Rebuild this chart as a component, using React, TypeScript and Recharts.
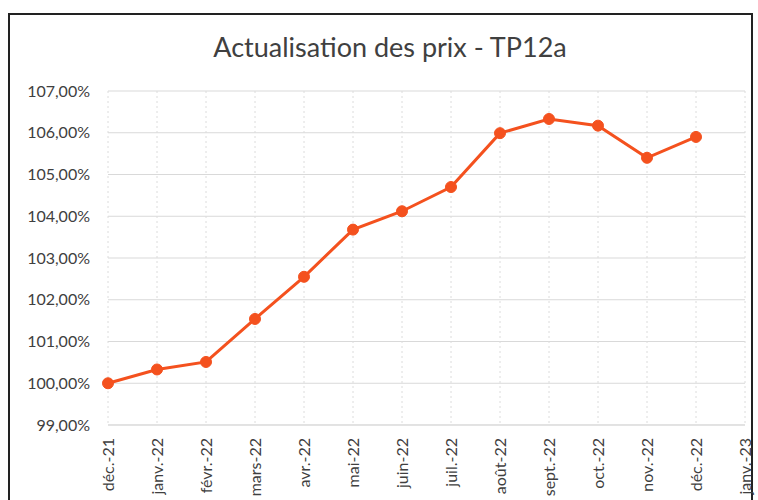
import React from 'react';
import { LineChart, Line, XAxis, YAxis, CartesianGrid } from 'recharts';

const months = ['déc.-21', 'janv.-22', 'févr.-22', 'mars-22', 'avr.-22', 'mai-22', 'juin-22', 'juil.-22', 'août-22', 'sept.-22', 'oct.-22', 'nov.-22', 'déc.-22', 'janv.-23'];
const values: (number | null)[] = [100.0, 100.33, 100.51, 101.54, 102.55, 103.68, 104.12, 104.7, 105.99, 106.33, 106.17, 105.4, 105.9, null];
const yTicks = [99, 100, 101, 102, 103, 104, 105, 106, 107];
const title = 'Actualisation des prix - TP12a';

const data = months.map((m, i) => ({ month: m, value: values[i] }));

const FONT = 'Lato, "Open Sans", sans-serif';
const TEXT = '#404040';

const fmt = (v: number) => v.toFixed(2).replace('.', ',') + '%';

const XTick = (props: any) => {
  const { x, y, payload } = props;
  return (
    <text
      x={x}
      y={y}
      transform={`rotate(-90, ${x}, ${y})`}
      textAnchor="end"
      dy="0.35em"
      fill={TEXT}
      fontSize={16}
      fontFamily={FONT}
    >
      {payload.value}
    </text>
  );
};

export default function App() {
  return (
    <div style={{ position: 'absolute', left: 0, top: 0, width: 758, height: 500, background: '#fff', overflow: 'hidden' }}>
      <div
        style={{
          position: 'absolute',
          left: 8,
          top: 13,
          width: 745,
          height: 520,
          border: '2px solid #222',
          boxSizing: 'border-box',
        }}
      />
      <div
        style={{
          position: 'absolute',
          left: 0,
          width: 758,
          top: 30,
          textAlign: 'center',
          fontFamily: FONT,
          fontSize: 27,
          color: TEXT,
          paddingLeft: 22,
          boxSizing: 'border-box',
        }}
      >
        {title}
      </div>
      <div style={{ position: 'absolute', left: 0, top: 0 }}>
        <LineChart width={758} height={500} data={data} margin={{ top: 91, right: 13, bottom: 5, left: 0 }}>
          <CartesianGrid horizontal={true} vertical={false} stroke="#d9d9d9" />
          <CartesianGrid horizontal={false} vertical={true} stroke="#dcdcdc" strokeDasharray="2 3" />
          <XAxis
            dataKey="month"
            height={70}
            interval={0}
            tick={<XTick />}
            tickLine={false}
            axisLine={{ stroke: '#d9d9d9' }}
            tickSize={0}
            tickMargin={13}
          />
          <YAxis
            width={108}
            domain={[99, 107]}
            ticks={yTicks}
            tickFormatter={fmt}
            axisLine={false}
            tickLine={false}
            tickSize={0}
            tickMargin={18}
            tick={{ fill: TEXT, fontSize: 16, fontFamily: FONT }}
          />
          <Line
            type="linear"
            dataKey="value"
            stroke="#F4511E"
            strokeWidth={3}
            dot={{ r: 5.5, fill: '#F4511E', stroke: '#F4511E', strokeWidth: 1 }}
            isAnimationActive={false}
            connectNulls={false}
          />
        </LineChart>
      </div>
    </div>
  );
}
